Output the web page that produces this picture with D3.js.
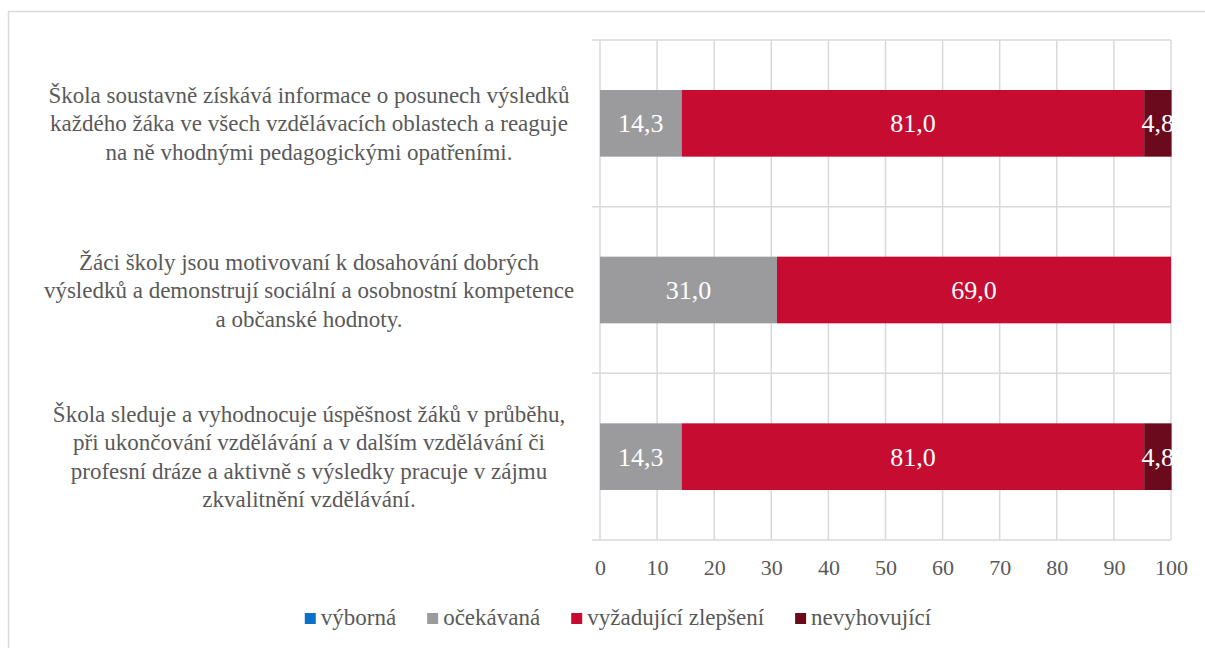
<!DOCTYPE html>
<html>
<head>
<meta charset="utf-8">
<script src="https://cdn.jsdelivr.net/npm/d3@7"></script>
<style>
  text, tspan { font-family: 'Times New Roman', 'Liberation Serif', serif !important; }
</style>
</head>
<body style="margin:0">
<script>
// data
const categories = [
  ["Škola soustavně získává informace o posunech výsledků",
   "každého žáka ve všech vzdělávacích oblastech a reaguje",
   "na ně vhodnými pedagogickými opatřeními."],
  ["Žáci školy jsou motivovaní k dosahování dobrých",
   "výsledků a demonstrují sociální a osobnostní kompetence",
   "a občanské hodnoty."],
  ["Škola sleduje a vyhodnocuje úspěšnost žáků v průběhu,",
   "při ukončování vzdělávání a v dalším vzdělávání či",
   "profesní dráze a aktivně s výsledky pracuje v zájmu",
   "zkvalitnění vzdělávání."]
]
const seriesNames = ["výborná", "očekávaná", "vyžadující zlepšení", "nevyhovující"]
const vyborna = [0, 0, 0]
const ocekavana = [14.3, 31.0, 14.3]
const vyzadujici = [81.0, 69.0, 81.0]
const nevyhovujici = [4.8, 0, 4.8]
const xTicks = [0, 10, 20, 30, 40, 50, 60, 70, 80, 90, 100]

const COLORS = ["#0A70C8", "#9B9B9D", "#C60D31", "#6B0A1C"]
const TEXT = "#595959"
const GRID = "#D9D9D9"

const W = 1205, H = 648
const PLOT = { LEFT: 600, RIGHT: 1171, TOP: 40, BOTTOM: 540 }

function serif(sel, size) {
  sel.attr("font-family", "Times New Roman")
    .attr("font-size", size)
  return sel
}

const svg = d3.select("body").append("svg")
  .attr("width", W).attr("height", H)

// outer frame
svg.append("rect")
  .attr("x", 8.5).attr("y", 11.5)
  .attr("width", W).attr("height", H)
  .attr("fill", "none").attr("stroke", GRID).attr("stroke-width", 1.5)

const x = d3.scaleLinear().domain([0, 100]).range([PLOT.LEFT, PLOT.RIGHT])
const keys = categories.map((c, i) => i)
const y = d3.scaleBand().domain(keys).range([PLOT.TOP, PLOT.BOTTOM])
  .paddingInner(0.6).paddingOuter(0.3)
const yCat = d3.scaleBand().domain(keys).range([PLOT.TOP, PLOT.BOTTOM])

// vertical gridlines
svg.append("g").selectAll("line").data(xTicks).join("line")
  .attr("x1", d => x(d)).attr("x2", d => x(d))
  .attr("y1", PLOT.TOP).attr("y2", PLOT.BOTTOM)
  .attr("stroke", GRID).attr("stroke-width", 1.5)

// category boundaries with ticks
const bounds = keys.map(k => yCat(k)).concat([PLOT.BOTTOM])
svg.append("g").selectAll("line").data(bounds).join("line")
  .attr("x1", PLOT.LEFT - 8).attr("x2", PLOT.RIGHT)
  .attr("y1", d => d).attr("y2", d => d)
  .attr("stroke", GRID).attr("stroke-width", 1.5)

// x axis labels
const xAxis = svg.append("g")
  .attr("transform", `translate(0, ${PLOT.BOTTOM})`)
  .call(d3.axisBottom(x).tickValues(xTicks).tickSize(0).tickPadding(19))
xAxis.attr("font-family", null).attr("font-size", null)
xAxis.select(".domain").remove()
serif(xAxis.selectAll("text"), 22).attr("fill", TEXT)

// stacked bars
const rows = keys.map(i => ({
  key: i, s0: vyborna[i], s1: ocekavana[i], s2: vyzadujici[i], s3: nevyhovujici[i]
}))
const stack = d3.stack().keys(["s0", "s1", "s2", "s3"])(rows)

const layers = svg.append("g").selectAll("g").data(stack).join("g")
  .attr("fill", (d, i) => COLORS[i])

layers.selectAll("rect").data(d => d.filter(p => p[1] - p[0] > 0)).join("rect")
  .attr("x", d => x(d[0]))
  .attr("width", d => x(d[1]) - x(d[0]))
  .attr("y", d => y(d.data.key))
  .attr("height", y.bandwidth())

serif(layers.selectAll("text").data(d => d.filter(p => p[1] - p[0] > 0)).join("text"), 26)
  .attr("x", d => (x(d[0]) + x(d[1])) / 2)
  .attr("y", d => y(d.data.key) + y.bandwidth() / 2)
  .attr("dy", "0.35em")
  .attr("text-anchor", "middle")
  .attr("fill", "#fff")
  .text(d => d3.format(".1f")(d[1] - d[0]).replace(".", ","))

// category labels
const LINE_H = 28.5
const catG = serif(svg.append("g").selectAll("text").data(categories).join("text"), 23)
  .attr("text-anchor", "middle")
  .attr("fill", TEXT)
catG.each(function (lines, i) {
  const cy = y(i) + y.bandwidth() / 2
  const top = cy - (lines.length - 1) * LINE_H / 2
  d3.select(this).selectAll("tspan").data(lines).join("tspan")
    .attr("x", 309)
    .attr("y", (l, j) => top + j * LINE_H)
    .attr("dy", "0.35em")
    .text(l => l)
})

// legend
const legend = svg.append("g")
const items = legend.selectAll("g").data(seriesNames).join("g")
items.append("rect")
  .attr("width", 11).attr("height", 11)
  .attr("y", 613)
  .attr("fill", (d, i) => COLORS[i])
serif(items.append("text"), 23)
  .attr("x", 16).attr("y", 625)
  .attr("fill", TEXT)
  .text(d => d)
let cursor = 0
const offsets = []
items.each(function () {
  offsets.push(cursor)
  cursor += 16 + this.querySelector("text").getComputedTextLength() + 31
})
const totalW = cursor - 31
items.attr("transform", (d, i) => `translate(${618 - totalW / 2 + offsets[i]}, 0)`)
</script>
</body>
</html>
